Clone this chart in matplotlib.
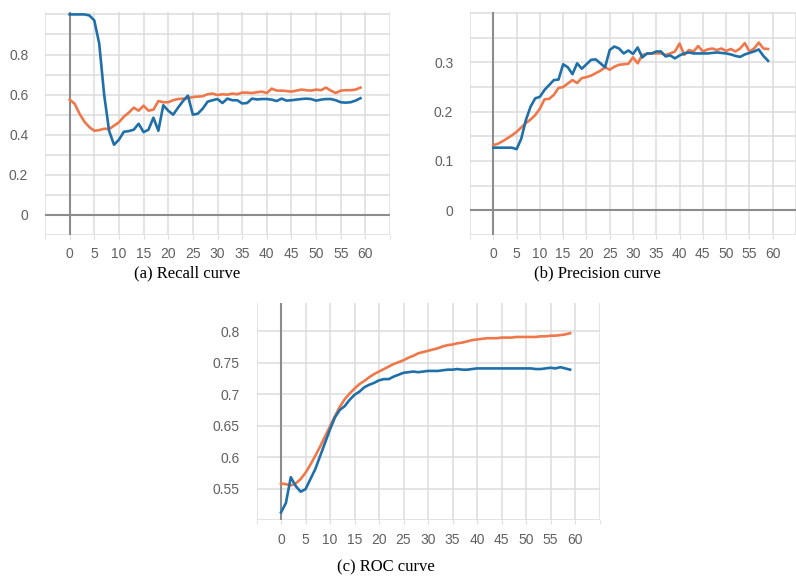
import matplotlib.pyplot as plt

epochs = list(range(60))

recall_blue = [1.0, 1.0, 1.0, 1.0, 0.995, 0.97, 0.855, 0.60, 0.42, 0.35,
               0.375, 0.415, 0.418, 0.425, 0.455, 0.413, 0.425, 0.485, 0.42, 0.547,
               0.52, 0.50, 0.535, 0.568, 0.595, 0.50, 0.505, 0.53, 0.565, 0.572,
               0.578, 0.558, 0.58, 0.572, 0.572, 0.556, 0.558, 0.58, 0.576, 0.578,
               0.578, 0.575, 0.568, 0.58, 0.57, 0.572, 0.575, 0.578, 0.58, 0.578,
               0.57, 0.575, 0.578, 0.578, 0.572, 0.562, 0.56, 0.562, 0.57, 0.582]
recall_orange = [0.575, 0.555, 0.505, 0.465, 0.438, 0.42, 0.423, 0.43, 0.428, 0.445,
                 0.462, 0.49, 0.51, 0.535, 0.52, 0.545, 0.52, 0.525, 0.568, 0.562,
                 0.562, 0.572, 0.578, 0.58, 0.582, 0.588, 0.59, 0.592, 0.602, 0.605,
                 0.598, 0.602, 0.6, 0.605, 0.602, 0.61, 0.61, 0.608, 0.612, 0.615,
                 0.608, 0.63, 0.62, 0.62, 0.618, 0.615, 0.62, 0.625, 0.622, 0.62,
                 0.625, 0.622, 0.635, 0.62, 0.608, 0.62, 0.622, 0.622, 0.625, 0.635]

precision_blue = [0.127, 0.127, 0.127, 0.127, 0.127, 0.124, 0.145, 0.183, 0.21, 0.227,
                  0.23, 0.244, 0.254, 0.264, 0.265, 0.296, 0.29, 0.276, 0.298, 0.287,
                  0.296, 0.305, 0.306, 0.298, 0.29, 0.325, 0.332, 0.328, 0.318, 0.324,
                  0.317, 0.33, 0.31, 0.318, 0.318, 0.322, 0.322, 0.312, 0.314, 0.308,
                  0.314, 0.318, 0.32, 0.318, 0.318, 0.318, 0.318, 0.319, 0.32, 0.319,
                  0.318, 0.316, 0.313, 0.311, 0.316, 0.319, 0.322, 0.326, 0.313, 0.303]
precision_orange = [0.132, 0.135, 0.14, 0.146, 0.152, 0.159, 0.168, 0.177, 0.184, 0.193,
                    0.206, 0.225, 0.226, 0.234, 0.248, 0.25, 0.257, 0.264, 0.258, 0.268,
                    0.27, 0.273, 0.278, 0.283, 0.29, 0.285, 0.291, 0.295, 0.296, 0.297,
                    0.31, 0.298, 0.315, 0.317, 0.318, 0.318, 0.318, 0.315, 0.318, 0.322,
                    0.338, 0.315, 0.325, 0.322, 0.333, 0.322, 0.326, 0.328, 0.325, 0.328,
                    0.323, 0.327, 0.322, 0.328, 0.339, 0.322, 0.328, 0.34, 0.328, 0.327]

roc_blue = [0.512, 0.527, 0.568, 0.554, 0.545, 0.549, 0.565, 0.581, 0.602, 0.623,
            0.644, 0.663, 0.675, 0.681, 0.691, 0.699, 0.704, 0.711, 0.715, 0.718,
            0.722, 0.724, 0.724, 0.728, 0.731, 0.734, 0.735, 0.736, 0.735, 0.736,
            0.737, 0.737, 0.737, 0.738, 0.739, 0.739, 0.74, 0.739, 0.739, 0.74,
            0.741, 0.741, 0.741, 0.741, 0.741, 0.741, 0.741, 0.741, 0.741, 0.741,
            0.741, 0.741, 0.74, 0.74, 0.741, 0.742, 0.741, 0.743, 0.741, 0.739]
roc_orange = [0.558, 0.557, 0.555, 0.558, 0.565, 0.575, 0.588, 0.602, 0.617, 0.633,
              0.649, 0.665, 0.68, 0.692, 0.701, 0.709, 0.716, 0.721, 0.727, 0.732,
              0.736, 0.74, 0.744, 0.748, 0.751, 0.754, 0.758, 0.761, 0.765, 0.767,
              0.769, 0.771, 0.773, 0.776, 0.778, 0.779, 0.781, 0.782, 0.784, 0.786,
              0.787, 0.788, 0.789, 0.789, 0.789, 0.79, 0.79, 0.79, 0.791, 0.791,
              0.791, 0.791, 0.791, 0.792, 0.792, 0.793, 0.793, 0.794, 0.795, 0.797]

x_ticks = list(range(0, 61, 5))

BLUE = '#1f70a8'
ORANGE = '#ef784b'
W, H = 796, 582

fig = plt.figure(figsize=(W / 100, H / 100), dpi=100)


def px_axes(left, top, right, bottom):
    # axes box given in pixel coords of the picture
    return fig.add_axes([left / W, 1 - bottom / H, (right - left) / W, (bottom - top) / H])


def style(ax, xlim, ylim, yticks, ylabels, ygrid, hline0=True):
    ax.set_xlim(*xlim)
    ax.set_ylim(*ylim)
    for s in ax.spines.values():
        s.set_visible(False)
    ax.set_xticks(x_ticks)
    ax.set_xticks(list(range(-5, 70, 5)), minor=True)
    ax.set_yticks(yticks)
    ax.set_yticklabels(ylabels)
    ax.set_yticks(ygrid, minor=True)
    ax.grid(True, which='minor', color='#dcdcdc', lw=1.1)
    ax.grid(True, which='major', color='#dcdcdc', lw=1.1)
    ax.tick_params(axis='x', which='both', length=3, color='#dcdcdc', pad=6,
                   labelsize=10, labelcolor='#606060')
    ax.tick_params(axis='y', which='both', length=0, pad=12,
                   labelsize=10, labelcolor='#606060')
    for lab in ax.get_xticklabels() + ax.get_yticklabels():
        lab.set_fontfamily('Liberation Sans')
    ax.axvline(0, color='#8c8c8c', lw=1.5, zorder=1.8)
    if hline0:
        ax.axhline(0, color='#8c8c8c', lw=1.5, zorder=1.8)


# (a) recall
ax1 = px_axes(45, 12, 390, 235)
style(ax1, (-5, 65), (-0.1, 1.012), [0, 0.2, 0.4, 0.6, 0.8], ['0', '0.2', '0.4', '0.6', '0.8'],
      [-0.1, 0.1, 0.3, 0.5, 0.7, 0.9, 1.0])
ax1.plot(epochs, recall_orange, color=ORANGE, lw=1.9, zorder=3)
ax1.plot(epochs, recall_blue, color=BLUE, lw=1.9, zorder=3)

# (b) precision
ax2 = px_axes(470, 12, 796, 235)
style(ax2, (-5, 63.4), (-0.05, 0.402), [0, 0.1, 0.2, 0.3], ['0', '0.1', '0.2', '0.3'],
      [-0.05, 0.05, 0.15, 0.25, 0.35, 0.4])
ax2.plot(epochs, precision_orange, color=ORANGE, lw=1.9, zorder=3)
ax2.plot(epochs, precision_blue, color=BLUE, lw=1.9, zorder=3)

# (c) roc
ax3 = px_axes(256.5, 303, 599.5, 520)
style(ax3, (-5, 65), (0.5, 0.845), [0.55, 0.6, 0.65, 0.7, 0.75, 0.8],
      ['0.55', '0.6', '0.65', '0.7', '0.75', '0.8'], [0.5], hline0=False)
ax3.plot(epochs, roc_orange, color=ORANGE, lw=1.9, zorder=3)
ax3.plot(epochs, roc_blue, color=BLUE, lw=1.9, zorder=3)

# captions
cap = dict(ha='center', va='center', fontsize=12, family='Liberation Serif')
fig.text(187 / W, 1 - 273 / H, '(a) Recall curve', **cap)
fig.text(597 / W, 1 - 273 / H, '(b) Precision curve', **cap)
fig.text(386 / W, 1 - 567 / H, '(c) ROC curve', **cap)

plt.savefig('out.png', dpi=100)
